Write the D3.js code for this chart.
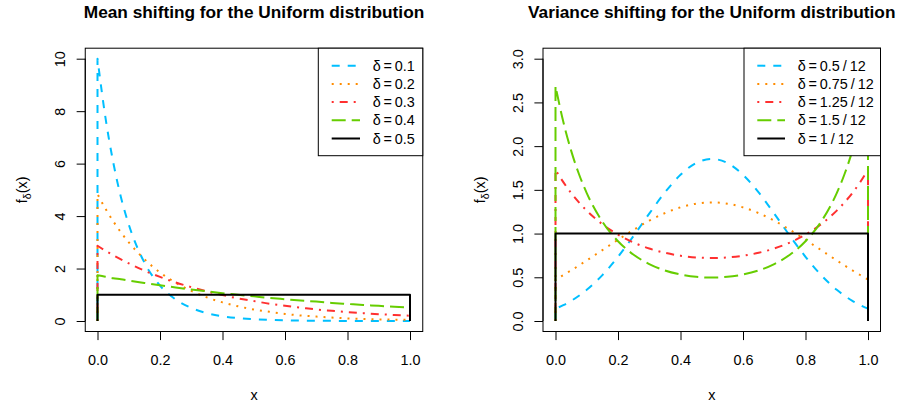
<!DOCTYPE html>
<html>
<head>
<meta charset="utf-8">
<script src="https://cdn.jsdelivr.net/npm/d3@7"></script>
<style>
  html, body { margin: 0; padding: 0; background: #ffffff; }
  svg { display: block; }
</style>
</head>
<body>
<div id="chart"></div>
<script>
// ---------------- data ----------------
// Left panel: mean shifting (x grid and densities)
const meanX = [0, 0.025, 0.05, 0.075, 0.1, 0.15, 0.2, 0.25, 0.3, 0.35, 0.4, 0.45, 0.5, 0.55, 0.6, 0.65, 0.7, 0.75, 0.8, 0.85, 0.9, 0.95, 1];
const meanD01 = [10.00, 7.79, 6.07, 4.72, 3.68, 2.23, 1.35, 0.82, 0.50, 0.30, 0.18, 0.11, 0.067, 0.041, 0.025, 0.015, 0.009, 0.006, 0.003, 0.002, 0.001, 0.001, 0.000];
const meanD02 = [4.84, 4.29, 3.81, 3.38, 3.00, 2.36, 1.85, 1.46, 1.15, 0.90, 0.71, 0.56, 0.44, 0.35, 0.27, 0.21, 0.17, 0.13, 0.10, 0.08, 0.06, 0.05, 0.04];
const meanD03 = [2.87, 2.68, 2.51, 2.35, 2.20, 1.92, 1.68, 1.47, 1.29, 1.13, 0.99, 0.86, 0.76, 0.66, 0.58, 0.51, 0.44, 0.39, 0.34, 0.30, 0.26, 0.23, 0.20];
const meanD04 = [1.74, 1.69, 1.63, 1.59, 1.54, 1.45, 1.36, 1.28, 1.20, 1.13, 1.06, 1.00, 0.94, 0.88, 0.83, 0.78, 0.74, 0.69, 0.65, 0.61, 0.58, 0.54, 0.51];
const meanD05 = [1, 1, 1, 1, 1, 1, 1, 1, 1, 1, 1, 1, 1, 1, 1, 1, 1, 1, 1, 1, 1, 1, 1];
const meanLabels = ["0.1", "0.2", "0.3", "0.4", "0.5"];

// Right panel: variance shifting
const varX = [0, 0.025, 0.05, 0.075, 0.1, 0.15, 0.2, 0.25, 0.3, 0.35, 0.4, 0.45, 0.5, 0.55, 0.6, 0.65, 0.7, 0.75, 0.8, 0.85, 0.9, 0.925, 0.95, 0.975, 1];
const varD050 = [0.141, 0.181, 0.230, 0.289, 0.357, 0.525, 0.734, 0.974, 1.228, 1.470, 1.672, 1.807, 1.854, 1.807, 1.672, 1.470, 1.228, 0.974, 0.734, 0.525, 0.357, 0.289, 0.230, 0.181, 0.141];
const varD075 = [0.475, 0.526, 0.579, 0.635, 0.693, 0.811, 0.929, 1.043, 1.147, 1.234, 1.300, 1.342, 1.356, 1.342, 1.300, 1.234, 1.147, 1.043, 0.929, 0.811, 0.693, 0.635, 0.579, 0.526, 0.475];
const varD125 = [1.729, 1.588, 1.464, 1.357, 1.262, 1.107, 0.988, 0.897, 0.829, 0.780, 0.747, 0.727, 0.721, 0.727, 0.747, 0.780, 0.829, 0.897, 0.988, 1.107, 1.262, 1.357, 1.464, 1.588, 1.729];
const varD150 = [2.686, 2.278, 1.949, 1.681, 1.463, 1.136, 0.912, 0.758, 0.651, 0.578, 0.532, 0.505, 0.497, 0.505, 0.532, 0.578, 0.651, 0.758, 0.912, 1.136, 1.463, 1.681, 1.949, 2.278, 2.686];
const varD100 = [1, 1, 1, 1, 1, 1, 1, 1, 1, 1, 1, 1, 1, 1, 1, 1, 1, 1, 1, 1, 1, 1, 1, 1, 1];
const varLabels = ["0.5/12", "0.75/12", "1.25/12", "1.5/12", "1/12"];

// tick labels
const xTicks = [0, 0.2, 0.4, 0.6, 0.8, 1.0];
const meanYTicks = [0, 2, 4, 6, 8, 10];
const varYTicks = [0, 0.5, 1.0, 1.5, 2.0, 2.5, 3.0];

// series styling
const seriesColors = ["#00BFFF", "#FF8C00", "#FF3030", "#66CD00", "#000000"];
const seriesDash = ["8,8", "2,6", "2,6,8,6", "14,6", null];

// ---------------- layout ----------------
const W = 900, H = 409;
const FONT = "'Liberation Sans', Arial, Helvetica, sans-serif";
const svg = d3.select("#chart").append("svg")
  .attr("width", W).attr("height", H)
  .attr("font-family", FONT);

svg.append("rect").attr("width", W).attr("height", H).attr("fill", "#fff");

const panels = [
  {
    title: "Mean shifting for the Uniform distribution",
    box: [85.25, 422.75], xr: [97.5, 410],
    yDomain: [0, 10], yTicks: meanYTicks, yFmt: d3.format("d"),
    xs: meanX, series: [meanD01, meanD02, meanD03, meanD04, meanD05],
    labels: meanLabels, legend: { left: 318.3, lineX0: 331.7, lineX1: 360, textX: 372.7 }
  },
  {
    title: "Variance shifting for the Uniform distribution",
    box: [543, 880.5], xr: [555.5, 868],
    yDomain: [0, 3], yTicks: varYTicks, yFmt: d3.format(".1f"),
    xs: varX, series: [varD050, varD075, varD125, varD150, varD100],
    labels: varLabels, legend: { left: 744, lineX0: 757.3, lineX1: 785, textX: 797.7 }
  }
];

const boxTop = 48.2, boxBottom = 331.5;
const yRange = [321, 58.7];
const tick = 8.6;

panels.forEach(p => {
  const g = svg.append("g");
  const x = d3.scaleLinear().domain([0, 1]).range(p.xr);
  const y = d3.scaleLinear().domain(p.yDomain).range(yRange);
  const cx = (p.box[0] + p.box[1]) / 2;

  // title
  g.append("text").attr("x", cx).attr("y", 18.3)
    .attr("text-anchor", "middle").attr("font-weight", "bold")
    .attr("font-size", 17.28).attr("fill", "#000").text(p.title);

  // curves
  const line = d3.line().x(d => x(d[0])).y(d => y(d[1])).curve(d3.curveMonotoneX);
  p.series.forEach((vals, i) => {
    const pts = p.xs.map((xv, k) => [xv, vals[k]]);
    const inner = line(pts);
    const dStr = `M${x(0)},${y(0)}L${x(0)},${y(vals[0])}` + "L" + inner.slice(1) +
      `L${x(1)},${y(0)}`;
    const path = g.append("path").attr("d", dStr)
      .attr("fill", "none").attr("stroke", seriesColors[i])
      .attr("stroke-width", 2).attr("stroke-linecap", "butt").attr("stroke-linejoin", "round");
    if (seriesDash[i]) path.attr("stroke-dasharray", seriesDash[i]);
  });

  // box
  g.append("rect").attr("x", p.box[0]).attr("y", boxTop)
    .attr("width", p.box[1] - p.box[0]).attr("height", boxBottom - boxTop)
    .attr("fill", "none").attr("stroke", "#000").attr("stroke-width", 1);

  // x axis
  const xa = g.append("g").attr("transform", `translate(0,${boxBottom})`)
    .call(d3.axisBottom(x).tickValues(xTicks).tickFormat(d3.format(".1f")).tickSize(tick).tickPadding(0));
  xa.select(".domain").attr("d", `M${x(0)},0H${x(1)}`).attr("stroke", "#000");
  xa.selectAll(".tick line").attr("stroke", "#000");
  xa.selectAll(".tick text").attr("y", 0).attr("dy", null)
    .attr("transform", `translate(0,${365 - boxBottom})`)
    .attr("font-size", 14.4).attr("font-family", FONT).attr("fill", "#000");

  // y axis
  const ya = g.append("g").attr("transform", `translate(${p.box[0]},0)`)
    .call(d3.axisLeft(y).tickValues(p.yTicks).tickFormat(p.yFmt).tickSize(tick).tickPadding(0));
  ya.select(".domain").attr("d", `M0,${y(p.yDomain[0])}V${y(p.yDomain[1])}`).attr("stroke", "#000");
  ya.selectAll(".tick line").attr("stroke", "#000");
  ya.selectAll(".tick text")
    .attr("x", null).attr("dy", null).attr("y", null)
    .attr("text-anchor", "middle")
    .attr("transform", `translate(-20.3,0) rotate(-90)`)
    .attr("font-size", 14.4).attr("font-family", FONT).attr("fill", "#000");

  // axis titles
  g.append("text").attr("x", cx).attr("y", 400)
    .attr("text-anchor", "middle").attr("font-size", 14.4).attr("fill", "#000").text("x");
  const yl = g.append("text")
    .attr("transform", `translate(${p.box[0] - 58},${(boxTop + boxBottom) / 2}) rotate(-90)`)
    .attr("text-anchor", "middle").attr("font-size", 14.4).attr("fill", "#000");
  yl.append("tspan").text("f");
  yl.append("tspan").attr("font-size", 10.5).attr("dy", 3.5).text("δ");
  yl.append("tspan").attr("dy", -3.5).text("(x)");

  // legend
  const L = p.legend;
  const lg = g.append("g");
  lg.append("rect").attr("x", L.left).attr("y", boxTop)
    .attr("width", p.box[1] - L.left).attr("height", 155.7 - boxTop)
    .attr("fill", "#fff").attr("stroke", "#000").attr("stroke-width", 1);
  const rowY = d3.scaleLinear().domain([0, 4]).range([65.7, 138.5]);
  p.labels.forEach((lab, i) => {
    const yy = rowY(i);
    const ln = lg.append("line").attr("x1", L.lineX0).attr("x2", L.lineX1)
      .attr("y1", yy).attr("y2", yy)
      .attr("stroke", seriesColors[i]).attr("stroke-width", 2).attr("stroke-linecap", "butt");
    if (seriesDash[i]) ln.attr("stroke-dasharray", seriesDash[i]);
    lg.append("text").attr("x", L.textX).attr("y", yy).attr("dy", "0.36em")
      .attr("font-size", 14.4).attr("fill", "#000")
      .text("δ\u2009=\u2009" + lab.replace("/", "\u2009/\u2009"));
  });
});
</script>
</body>
</html>
